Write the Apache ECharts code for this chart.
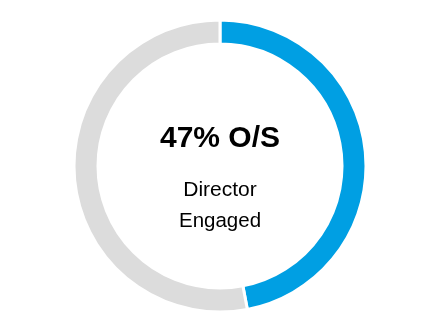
<!DOCTYPE html>
<html><head><meta charset="utf-8">
<script src="https://cdn.jsdelivr.net/npm/echarts@6/dist/echarts.min.js"></script>
<style>html,body{margin:0;padding:0;background:#fff}#c{width:440px;height:336px}</style>
</head><body><div id="c"></div>
<script>
const categories = ['O/S', 'Remaining'];
const values = [47, 53];
const colors = ['#009FE3', '#DCDCDC'];
const centerTitle = '47% O/S';
const centerLines = ['Director', 'Engaged'];

const chart = echarts.init(document.getElementById('c'), null, {renderer: 'canvas'});
const fontFamily = '"Liberation Sans", Arial, sans-serif';
chart.setOption({
  animation: false,
  series: [{
    type: 'pie',
    center: [220, 166],
    radius: [122, 146],
    startAngle: 90,
    clockwise: true,
    label: {show: false},
    labelLine: {show: false},
    emphasis: {disabled: true},
    itemStyle: {borderColor: '#fff', borderWidth: 3},
    data: categories.map((c, i) => ({name: c, value: values[i], itemStyle: {color: colors[i]}}))
  }],
  graphic: [
    {type: 'text', x: 220, y: 139, style: {text: centerTitle, x: 0, y: 0, align: 'center', verticalAlign: 'middle', font: 'bold 30px ' + fontFamily, fill: '#000'}},
    {type: 'text', x: 220, y: 190, style: {text: centerLines[0], x: 0, y: 0, align: 'center', verticalAlign: 'middle', font: '21px ' + fontFamily, fill: '#000'}},
    {type: 'text', x: 220, y: 221.5, style: {text: centerLines[1], x: 0, y: 0, align: 'center', verticalAlign: 'middle', font: '20.5px ' + fontFamily, fill: '#000'}}
  ]
});
</script></body></html>
